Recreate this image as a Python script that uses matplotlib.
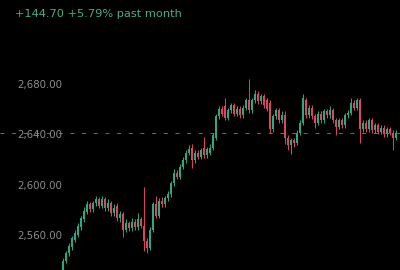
import matplotlib
matplotlib.use("Agg")
import matplotlib.pyplot as plt

# candle data, one entry per period
opens = [2531, 2540, 2546, 2551, 2557, 2561, 2567, 2573, 2579, 2585,
         2581, 2586, 2589, 2584, 2589, 2582, 2586, 2578, 2584, 2574,
         2577, 2565, 2570, 2566, 2571, 2567, 2573, 2568, 2556, 2550,
         2565, 2585, 2576, 2588, 2585, 2590, 2593, 2602, 2610, 2607,
         2615, 2620, 2626, 2630, 2620, 2626, 2623, 2630, 2624, 2626,
         2630, 2638, 2655, 2661, 2663, 2654, 2660, 2664, 2657, 2661,
         2656, 2662, 2668, 2660, 2668, 2673, 2667, 2671, 2668, 2666,
         2645, 2655, 2660, 2652, 2656, 2638, 2632, 2636, 2634, 2642,
         2650, 2668, 2656, 2662, 2655, 2650, 2657, 2652, 2659, 2656,
         2660, 2652, 2647, 2652, 2648, 2656, 2658, 2666, 2662, 2668,
         2645, 2650, 2645, 2652, 2644, 2648, 2643, 2646, 2641, 2645,
         2642, 2638]
closes = [2540, 2546, 2552, 2558, 2562, 2568, 2574, 2580, 2585, 2581,
          2586, 2589, 2584, 2589, 2582, 2586, 2578, 2582, 2574, 2577,
          2565, 2570, 2566, 2571, 2567, 2573, 2568, 2556, 2550, 2565,
          2585, 2576, 2588, 2585, 2590, 2593, 2602, 2610, 2607, 2615,
          2620, 2626, 2629, 2620, 2626, 2623, 2628, 2624, 2629, 2630,
          2640, 2655, 2661, 2657, 2654, 2660, 2664, 2657, 2661, 2656,
          2662, 2668, 2660, 2668, 2673, 2667, 2671, 2664, 2661, 2645,
          2655, 2660, 2652, 2656, 2638, 2632, 2636, 2634, 2642, 2650,
          2670, 2656, 2662, 2655, 2650, 2657, 2652, 2659, 2656, 2660,
          2652, 2647, 2652, 2648, 2656, 2658, 2666, 2662, 2668, 2645,
          2650, 2645, 2652, 2644, 2648, 2643, 2646, 2641, 2645, 2642,
          2638, 2642]
highs = [2542, 2548, 2554, 2560, 2565, 2570, 2576, 2583, 2588, 2587,
         2588, 2592, 2591, 2592, 2591, 2589, 2588, 2585, 2586, 2580,
         2579, 2573, 2572, 2574, 2573, 2578, 2575, 2599, 2558, 2567,
         2587, 2592, 2590, 2591, 2592, 2596, 2604, 2613, 2612, 2617,
         2623, 2628, 2632, 2633, 2628, 2628, 2630, 2639, 2631, 2633,
         2642, 2657, 2663, 2663, 2670, 2662, 2666, 2666, 2663, 2663,
         2664, 2670, 2685, 2670, 2676, 2675, 2673, 2673, 2670, 2668,
         2657, 2662, 2662, 2659, 2659, 2640, 2638, 2638, 2644, 2652,
         2673, 2670, 2664, 2664, 2657, 2659, 2659, 2661, 2661, 2663,
         2662, 2654, 2654, 2654, 2658, 2660, 2670, 2668, 2670, 2670,
         2652, 2652, 2654, 2654, 2650, 2650, 2648, 2648, 2647, 2647,
         2644, 2644]
lows = [2530, 2538, 2544, 2549, 2555, 2559, 2565, 2571, 2577, 2579,
        2579, 2584, 2582, 2582, 2580, 2580, 2576, 2576, 2572, 2571,
        2559, 2563, 2564, 2564, 2565, 2565, 2566, 2548, 2546, 2549,
        2563, 2574, 2574, 2583, 2583, 2588, 2591, 2600, 2605, 2605,
        2613, 2618, 2624, 2614, 2618, 2621, 2621, 2622, 2622, 2624,
        2628, 2636, 2653, 2655, 2652, 2652, 2658, 2655, 2655, 2654,
        2654, 2660, 2658, 2658, 2666, 2665, 2665, 2662, 2659, 2642,
        2643, 2653, 2650, 2650, 2633, 2628, 2625, 2631, 2632, 2640,
        2648, 2654, 2654, 2653, 2646, 2648, 2650, 2650, 2654, 2654,
        2650, 2640, 2645, 2646, 2646, 2654, 2656, 2660, 2660, 2634,
        2643, 2643, 2643, 2642, 2642, 2641, 2641, 2639, 2639, 2640,
        2628, 2636]

y_ticks = [2560, 2600, 2640, 2680]
ref_price = 2642
title = "+144.70 +5.79% past month"

up_col = "#26ab84"
down_col = "#e0455f"

fig = plt.figure(figsize=(4, 2.7), dpi=100, facecolor="black")
ax = fig.add_axes([0, 0, 1, 1])
ax.set_facecolor("black")

xs = list(range(len(opens)))
cols = [up_col if c >= o else down_col for o, c in zip(opens, closes)]
ax.vlines(xs, lows, highs, colors=cols, linewidth=0.7, zorder=2)
bottoms = [min(o, c) for o, c in zip(opens, closes)]
heights = [max(abs(c - o), 0.6) for o, c in zip(opens, closes)]
ax.bar(xs, heights, bottom=bottoms, width=0.8, color=cols, linewidth=0, zorder=3)

# reference line
ax.axhline(ref_price, color="#6e6e6e", linewidth=0.7, linestyle=(0, (4, 8)), zorder=1)

for t in y_ticks:
    ax.text(0.155, t, f"{t:,.2f}", transform=ax.get_yaxis_transform(),
            ha="right", va="center", fontsize=7.4, color="#8c8c8c")

fig.text(15 / 400, 1 - 14 / 270, title, ha="left", va="center",
         fontsize=8.2, color="#45ad8c")

ax.set_xlim(-21, 112.33)
ax.set_ylim(2532.8, 2747.7)
ax.axis("off")

fig.savefig("out.png", dpi=100, facecolor="black")
